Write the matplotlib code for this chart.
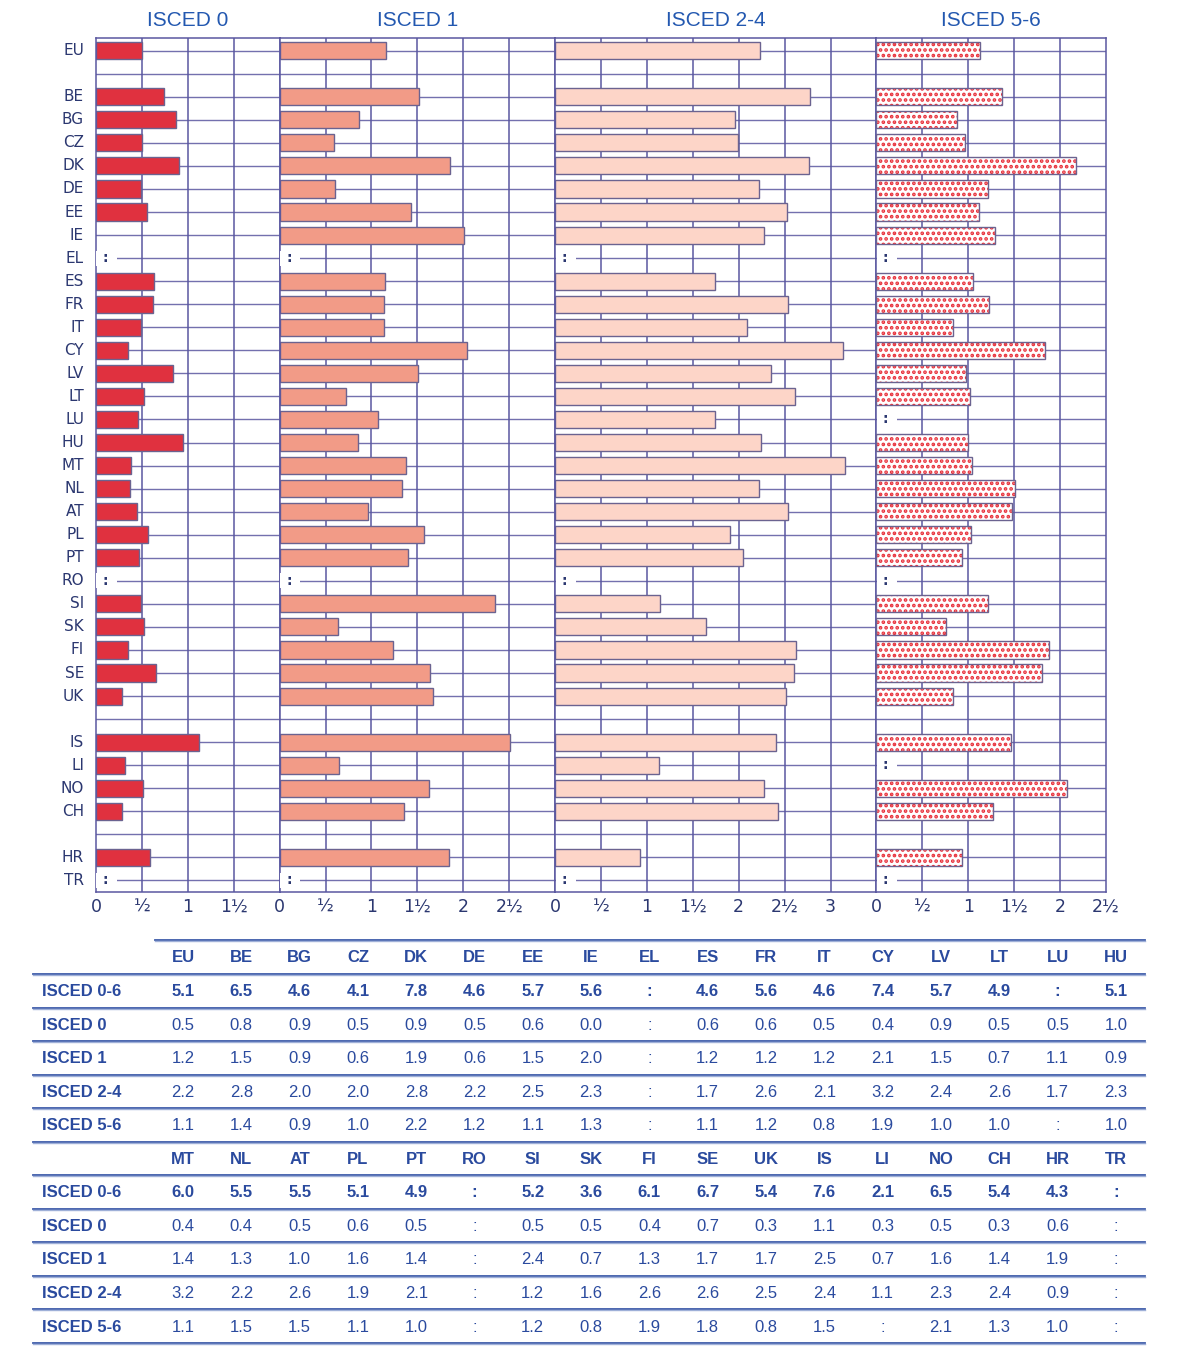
import matplotlib
matplotlib.use("Agg")
import matplotlib.pyplot as plt
import matplotlib.lines as mlines

# ---------------- data ----------------
groups = [["EU"],
          ["BE", "BG", "CZ", "DK", "DE", "EE", "IE", "EL", "ES", "FR", "IT", "CY", "LV", "LT",
           "LU", "HU", "MT", "NL", "AT", "PL", "PT", "RO", "SI", "SK", "FI", "SE", "UK"],
          ["IS", "LI", "NO", "CH"],
          ["HR", "TR"]]

panel_titles = ["ISCED 0", "ISCED 1", "ISCED 2-4", "ISCED 5-6"]
panel_max = [2.0, 3.0, 3.5, 2.5]
tick_labels = ["0", "½", "1", "1½", "2", "2½", "3"]
panel_last_tick = [1.5, 2.5, 3.0, 2.5]

# bar lengths (None = data not available ':')
isced0 = [0.50,
          0.74, 0.87, 0.50, 0.90, 0.49, 0.55, 0.0, None, 0.63, 0.62, 0.49, 0.35, 0.84, 0.52,
          0.46, 0.95, 0.38, 0.37, 0.45, 0.57, 0.47, None, 0.49, 0.52, 0.35, 0.65, 0.28,
          1.12, 0.32, 0.51, 0.28,
          0.59, None]
isced1 = [1.16,
          1.52, 0.86, 0.59, 1.86, 0.60, 1.43, 2.01, None, 1.15, 1.14, 1.14, 2.04, 1.51, 0.72,
          1.07, 0.85, 1.38, 1.33, 0.96, 1.57, 1.40, None, 2.35, 0.64, 1.24, 1.64, 1.67,
          2.51, 0.65, 1.63, 1.35,
          1.85, None]
isced24 = [2.23,
           2.78, 1.96, 1.99, 2.77, 2.22, 2.53, 2.28, None, 1.74, 2.54, 2.09, 3.14, 2.35, 2.61,
           1.74, 2.24, 3.16, 2.22, 2.54, 1.90, 2.05, None, 1.14, 1.64, 2.62, 2.60, 2.52,
           2.41, 1.13, 2.27, 2.43,
           0.92, None]
isced56 = [1.13,
           1.37, 0.88, 0.96, 2.17, 1.21, 1.12, 1.29, None, 1.05, 1.23, 0.83, 1.84, 0.98, 1.02,
           None, 1.00, 1.04, 1.51, 1.48, 1.03, 0.93, None, 1.21, 0.76, 1.88, 1.80, 0.83,
           1.47, None, 2.07, 1.27,
           0.93, None]

# table
table_rows = ["ISCED 0-6", "ISCED 0", "ISCED 1", "ISCED 2-4", "ISCED 5-6"]
table_countries_1 = ["EU", "BE", "BG", "CZ", "DK", "DE", "EE", "IE", "EL", "ES", "FR", "IT",
                     "CY", "LV", "LT", "LU", "HU"]
table_countries_2 = ["MT", "NL", "AT", "PL", "PT", "RO", "SI", "SK", "FI", "SE", "UK", "IS",
                     "LI", "NO", "CH", "HR", "TR"]
t1_total = ["5.1", "6.5", "4.6", "4.1", "7.8", "4.6", "5.7", "5.6", ":", "4.6", "5.6", "4.6",
            "7.4", "5.7", "4.9", ":", "5.1"]
t1_i0 = ["0.5", "0.8", "0.9", "0.5", "0.9", "0.5", "0.6", "0.0", ":", "0.6", "0.6", "0.5",
         "0.4", "0.9", "0.5", "0.5", "1.0"]
t1_i1 = ["1.2", "1.5", "0.9", "0.6", "1.9", "0.6", "1.5", "2.0", ":", "1.2", "1.2", "1.2",
         "2.1", "1.5", "0.7", "1.1", "0.9"]
t1_i24 = ["2.2", "2.8", "2.0", "2.0", "2.8", "2.2", "2.5", "2.3", ":", "1.7", "2.6", "2.1",
          "3.2", "2.4", "2.6", "1.7", "2.3"]
t1_i56 = ["1.1", "1.4", "0.9", "1.0", "2.2", "1.2", "1.1", "1.3", ":", "1.1", "1.2", "0.8",
          "1.9", "1.0", "1.0", ":", "1.0"]
t2_total = ["6.0", "5.5", "5.5", "5.1", "4.9", ":", "5.2", "3.6", "6.1", "6.7", "5.4", "7.6",
            "2.1", "6.5", "5.4", "4.3", ":"]
t2_i0 = ["0.4", "0.4", "0.5", "0.6", "0.5", ":", "0.5", "0.5", "0.4", "0.7", "0.3", "1.1",
         "0.3", "0.5", "0.3", "0.6", ":"]
t2_i1 = ["1.4", "1.3", "1.0", "1.6", "1.4", ":", "2.4", "0.7", "1.3", "1.7", "1.7", "2.5",
         "0.7", "1.6", "1.4", "1.9", ":"]
t2_i24 = ["3.2", "2.2", "2.6", "1.9", "2.1", ":", "1.2", "1.6", "2.6", "2.6", "2.5", "2.4",
          "1.1", "2.3", "2.4", "0.9", ":"]
t2_i56 = ["1.1", "1.5", "1.5", "1.1", "1.0", ":", "1.2", "0.8", "1.9", "1.8", "0.8", "1.5",
          ":", "2.1", "1.3", "1.0", ":"]

# ---------------- styling ----------------
W, H = 1199, 1348
GRID = "#5a57a0"
EDGE = "#6b6390"
LABEL = "#2b3770"
TITLE = "#2358b0"
TBL = "#2a4a9e"
TBL_LINE = "#3d5ba9"
colors = ["#e0313f", "#f29b87", "#fdd5c8", "white"]
NARROW = ["Liberation Sans Narrow", "DejaVu Sans"]
ARIAL = ["Liberation Sans", "DejaVu Sans"]
plt.rcParams["hatch.linewidth"] = 1.8

fig = plt.figure(figsize=(W / 100, H / 100), dpi=100)

# row positions with blank rows between groups
countries, ypos = [], []
r = 0
for gi, g in enumerate(groups):
    for c in g:
        countries.append(c)
        ypos.append(r)
        r += 1
    if gi < len(groups) - 1:
        r += 1
nrows = r

def fx(px):
    return px / W

def fy(py):
    return 1 - py / H

left_px, right_px, top_px, bot_px = 96, 1106, 38, 892
unit_px = (right_px - left_px) / sum(panel_max)
series = [isced0, isced1, isced24, isced56]

x0 = left_px
axes = []
for i, (title, xmax, vals) in enumerate(zip(panel_titles, panel_max, series)):
    wpx = xmax * unit_px
    ax = fig.add_axes([fx(x0), fy(bot_px), wpx / W, (bot_px - top_px) / H])
    ax.set_xlim(0, xmax)
    ax.set_ylim(nrows - 1 + 0.5, -0.55)
    for s in ax.spines.values():
        s.set_color(GRID)
        s.set_linewidth(1.1)
    ax.set_yticks([])
    ticks = [t * 0.5 for t in range(int(panel_last_tick[i] * 2) + 1)]
    ax.set_xticks(ticks)
    ax.set_xticklabels(tick_labels[:len(ticks)], fontsize=12.5, color=LABEL, family=NARROW)
    ax.tick_params(axis="x", length=0, pad=4)
    # grid
    for k in range(1, int(xmax * 2)):
        ax.axvline(k * 0.5, color=GRID, lw=1.1, zorder=1)
    for yy in range(nrows):
        ax.axhline(yy, color=GRID, lw=1.0, alpha=0.85, zorder=1)
    # bars
    for c, y, v in zip(countries, ypos, vals):
        if v is None:
            ax.text(0.1, y, ":", ha="center", va="center", fontsize=10, fontweight="bold",
                    color=LABEL, zorder=4,
                    bbox=dict(boxstyle="square,pad=0.25", fc="white", ec="none"))
            ax.add_patch(plt.Rectangle((0.005, y - 0.32), 0.22 * 92 / unit_px, 0.64,
                                       fc="white", ec="none", zorder=3))
            continue
        if v <= 0:
            continue
        if i == 3:
            ax.barh(y, v, height=0.74, color="white", edgecolor="#e8303a", lw=0,
                    hatch="...", zorder=2)
            ax.barh(y, v, height=0.74, fill=False, edgecolor=EDGE, lw=1.0, zorder=3)
        else:
            ax.barh(y, v, height=0.74, color=colors[i], edgecolor=EDGE, lw=1.0, zorder=2)
    fig.text(fx(x0 + wpx / 2), fy(21), title, ha="center", va="center", fontsize=15,
             color=TITLE, family=ARIAL)
    axes.append(ax)
    x0 += wpx

# country labels
for c, y in zip(countries, ypos):
    axes[0].text(-0.13, y, c, ha="right", va="center", fontsize=11, color=LABEL,
                 family=NARROW, clip_on=False)

# ---------------- table ----------------
col0_px, col_step = 183, 58.3
row_label_px = 42
blocks = [(table_countries_1, [t1_total, t1_i0, t1_i1, t1_i24, t1_i56], 958),
          (table_countries_2, [t2_total, t2_i0, t2_i1, t2_i24, t2_i56], 1159)]
row_step = 33.6
for cs, rows, yh in blocks:
    for j, c in enumerate(cs):
        fig.text(fx(col0_px + j * col_step), fy(yh), c, ha="center", va="center",
                 fontsize=12, fontweight="bold", color=TBL, family=ARIAL)
    for ri, (lab, vals) in enumerate(zip(table_rows, rows)):
        yy = yh + (ri + 1) * row_step
        bold = ri == 0
        fig.text(fx(row_label_px), fy(yy), lab, ha="left", va="center", fontsize=12,
                 fontweight="bold", color=TBL, family=ARIAL)
        for j, v in enumerate(vals):
            fig.text(fx(col0_px + j * col_step), fy(yy), v, ha="center", va="center",
                     fontsize=12, fontweight="bold" if bold else "normal", color=TBL,
                     family=ARIAL)

line_ys = [974, 1008, 1041, 1075, 1108, 1142, 1175, 1209, 1242, 1276, 1309, 1343]
def hline(xa, xb, y):
    fig.add_artist(mlines.Line2D([fx(xa), fx(xb)], [fy(y), fy(y)], color=TBL_LINE, lw=1.3))
    fig.add_artist(mlines.Line2D([fx(xa), fx(xb)], [fy(y + 1.3), fy(y + 1.3)],
                                 color="#9fb0d8", lw=1.0))
hline(155, 1145, 940)
for y in line_ys:
    hline(33, 1145, y)

fig.savefig("out.png", dpi=100)
